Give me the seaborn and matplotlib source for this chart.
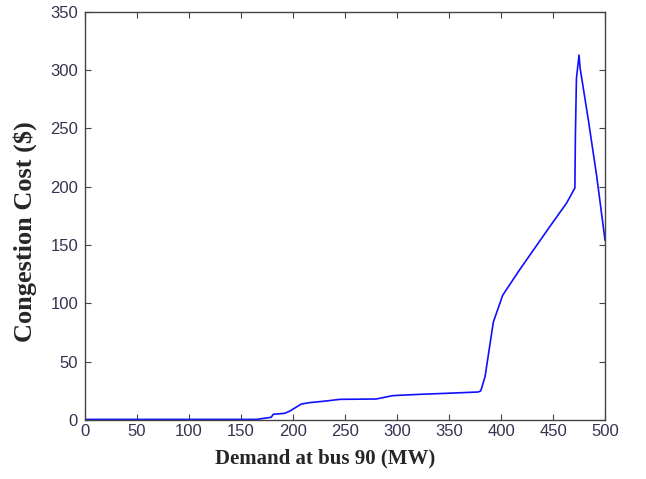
import numpy as np
import pandas as pd
import matplotlib
matplotlib.use("Agg")
import matplotlib.pyplot as plt
import seaborn as sns

sns.set_style("ticks")

# Demand at bus 90 (MW) vs congestion cost ($)
demand = [0, 165, 167, 179, 181, 192, 197, 208, 216, 232, 245, 280, 296, 322,
          348, 378, 380.5, 384.6, 392.6, 401.6, 418, 447, 463, 471, 471.5,
          472.5, 475, 476, 484, 492, 500]
cost = [0.5, 0.5, 0.8, 2.3, 4.9, 5.7, 7.7, 13.7, 14.9, 16.3, 17.7, 18, 20.9,
        22, 22.9, 24, 25, 37, 84, 107, 129, 166, 186, 199, 244, 293, 313, 302,
        257, 209, 154]

df = pd.DataFrame({"demand": demand, "cost": cost})

fig = plt.figure(figsize=(6.46, 4.79), dpi=100)
ax = fig.add_axes([0.1316, 0.1232, 0.805, 0.852])

sns.lineplot(data=df, x="demand", y="cost", sort=False, estimator=None,
             color="#1010ff", linewidth=1.2, ax=ax)

ax.set_xlim(0, 500)
ax.set_ylim(0, 350)
ax.set_xticks(np.arange(0, 501, 50))
ax.set_yticks(np.arange(0, 351, 50))

for s in ax.spines.values():
    s.set_color("#444444")
    s.set_linewidth(1.0)
    s.set_visible(True)

ax.tick_params(direction="in", top=True, right=True, length=4,
               color="#444444", labelcolor="#3a3050", labelsize=12)
ax.tick_params(axis="x", pad=3)
ax.tick_params(axis="y", pad=5)
for lab in ax.get_xticklabels() + ax.get_yticklabels():
    lab.set_family(["Liberation Sans", "DejaVu Sans"])

ax.set_xlabel("Demand at bus 90 (MW)", fontsize=15, fontweight="bold",
              family=["Liberation Serif", "DejaVu Serif"])
ax.set_ylabel("Congestion Cost ($)", fontsize=19, fontweight="bold",
              family=["Liberation Serif", "DejaVu Serif"])
ax.xaxis.set_label_coords(0.462, -0.071)
ax.yaxis.set_label_coords(-0.092, 0.461)

fig.savefig("out.png", dpi=100)
